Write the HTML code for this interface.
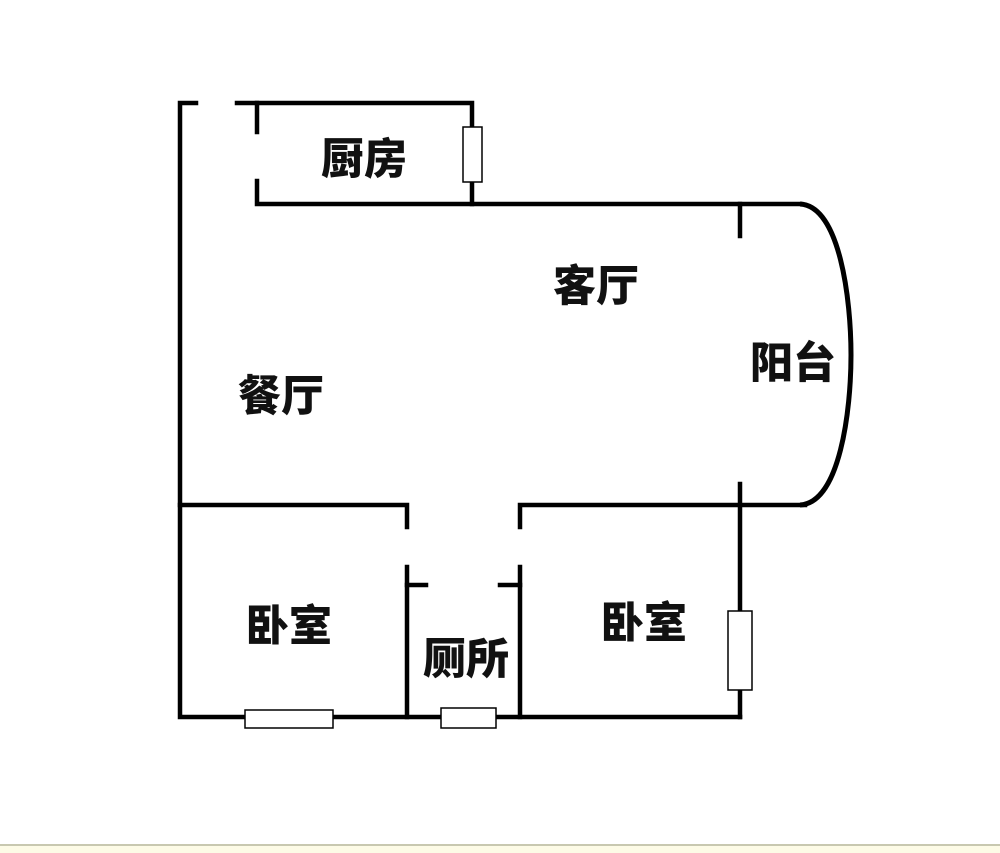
<!DOCTYPE html>
<html><head><meta charset="utf-8"><style>
html,body{margin:0;padding:0;background:#fff;}
svg{display:block;}
text{font-family:"Liberation Sans","Noto Sans CJK SC",sans-serif;font-weight:900;font-size:43px;fill:#111;}
</style></head><body>
<svg width="1000" height="853" viewBox="0 0 1000 853" xmlns="http://www.w3.org/2000/svg">
<rect width="1000" height="853" fill="#fff"/>
<rect x="0" y="844" width="1000" height="2" fill="#c8c8b0"/>
<rect x="0" y="846" width="1000" height="7" fill="#fdfbe6"/>
<g stroke="#000" stroke-width="4.5" fill="none" stroke-linecap="square">
<path d="M196 103 H180 V717 H740"/>
<path d="M237 103 H472 V204"/>
<path d="M257 103 V132"/>
<path d="M257 181 V204 H800"/>
<path d="M740 204 V236"/>
<path d="M740 484 V717"/>
<path d="M520 527 V505 H805"/>
<path d="M180 505 H407 V527"/>
<path d="M407 567 V717"/>
<path d="M520 567 V717"/>
<path d="M407 585 H426"/>
<path d="M500 585 H520"/>
</g>
<path d="M800 204 C840 206 851 300 851 355 C851 410 840 503 800 505" stroke="#000" stroke-width="5" fill="none"/>
<g stroke="#000" stroke-width="1.5" fill="#fff">
<rect x="463" y="127" width="19" height="55"/>
<rect x="245" y="710" width="88" height="18"/>
<rect x="441" y="708" width="55" height="20"/>
<rect x="728" y="611" width="24" height="79"/>
</g>
<g text-anchor="middle" dominant-baseline="central">
<text x="364" y="160">厨房</text>
<text x="596" y="287">客厅</text>
<text x="793" y="364">阳台</text>
<text x="281" y="397">餐厅</text>
<text x="289" y="627">卧室</text>
<text x="466" y="660">厕所</text>
<text x="644" y="624">卧室</text>
</g>
</svg>
</body></html>
